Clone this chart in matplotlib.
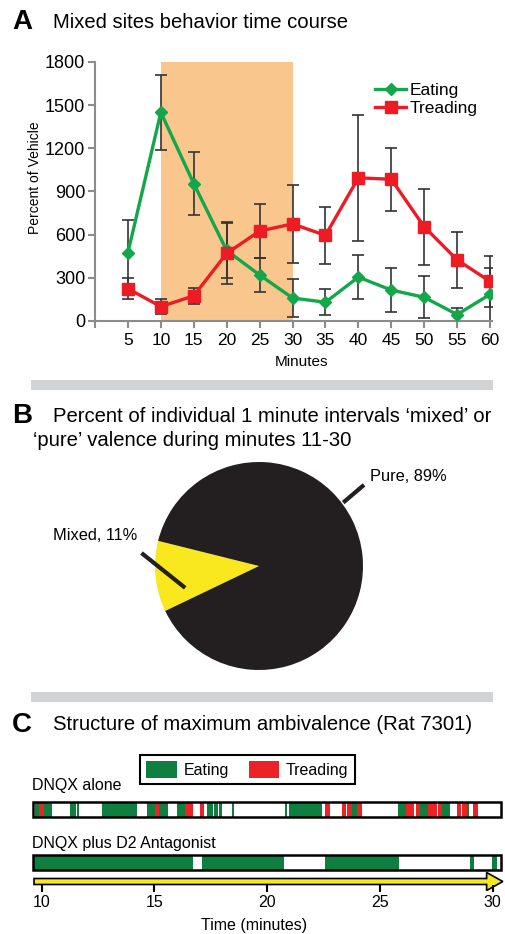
import matplotlib
matplotlib.use("Agg")
import matplotlib.pyplot as plt
from matplotlib.patches import Rectangle, FancyArrow, Patch

plt.rcParams["font.family"] = ["Liberation Sans", "DejaVu Sans"]

# ---- panel A: time course, percent of vehicle
minutes = [5, 10, 15, 20, 25, 30, 35, 40, 45, 50, 55, 60]
eating = [475, 1450, 955, 490, 320, 160, 130, 305, 215, 165, 45, 185]
eating_err = [225, 260, 220, 190, 120, 135, 90, 155, 150, 145, 45, 185]
treading = [225, 100, 175, 470, 625, 675, 595, 995, 985, 655, 425, 275]
treading_err = [75, 50, 55, 215, 190, 270, 200, 440, 220, 265, 195, 175]
y_ticks = [0, 300, 600, 900, 1200, 1500, 1800]
shade_window = (10, 30)

# ---- panel B: mixed vs pure minutes
pie_labels = ["Mixed, 11%", "Pure, 89%"]
pie_values = [11, 89]

# ---- panel C: behaviour bouts (start, end) in minutes
dnqx_eating = [(9.70, 9.88), (10.10, 10.44), (11.26, 11.51), (11.57, 11.67),
               (12.66, 14.21), (14.66, 15.02), (15.20, 15.61), (15.99, 16.36),
               (17.32, 17.60), (17.62, 17.82), (17.86, 17.99), (18.44, 18.51),
               (20.79, 20.86), (20.97, 22.42), (23.75, 23.97), (25.81, 26.14),
               (26.78, 27.14), (27.74, 28.11), (28.85, 28.95)]
dnqx_treading = [(9.88, 10.10), (15.02, 15.20), (16.36, 16.72), (17.02, 17.21),
                 (22.56, 22.78), (23.30, 23.49), (23.55, 23.75), (23.97, 24.19),
                 (26.14, 26.52), (26.59, 26.78), (27.14, 27.52), (27.59, 27.74),
                 (28.40, 28.59), (28.65, 28.85), (29.14, 29.36)]
d2_eating = [(9.63, 16.72), (17.09, 20.76), (22.56, 25.86), (29.00, 29.17),
             (29.95, 30.18)]
session = (9.63, 30.35)
time_ticks = [10, 15, 20, 25, 30]

green = "#14a64a"
red = "#ed1c24"
c_green = "#0f7f40"
c_red = "#ec2227"
axis_gray = "#8c8c8c"
pie_black = "#231f20"
pie_yellow = "#f9e81d"

W, H = 506, 934
fig = plt.figure(figsize=(W / 100, H / 100), dpi=100)


def box(x0, y0, x1, y1):
    return [x0 / W, 1 - y1 / H, (x1 - x0) / W, (y1 - y0) / H]


def fxy(x, y):
    return (x / W, 1 - y / H)


def gray_bar(y):
    fig.add_artist(Rectangle(fxy(31, y + 10), (493 - 31) / W, 10 / H,
                             transform=fig.transFigure, color="#d1d3d4", lw=0))


# ================= panel A
fig.text(*fxy(12, 22), "A", fontsize=20, fontweight="bold", va="center")
fig.text(*fxy(53, 23), "Mixed sites behavior time course", fontsize=14.6, va="center")

axA = fig.add_axes(box(95, 62, 492, 321))
axA.axvspan(*shade_window, color="#f9c68d", lw=0, zorder=0)
axA.errorbar(minutes, eating, yerr=eating_err, fmt="none", ecolor="#333333",
             elinewidth=1.2, capsize=4, capthick=1.2, zorder=2)
axA.errorbar(minutes, treading, yerr=treading_err, fmt="none", ecolor="#333333",
             elinewidth=1.2, capsize=4, capthick=1.2, zorder=2)
axA.plot(minutes, eating, color=green, lw=2.4, marker="D", ms=6, label="Eating", zorder=3)
axA.plot(minutes, treading, color=red, lw=2.4, marker="s", ms=8, label="Treading", zorder=3)
axA.set_xlim(0, 60.3)
axA.set_ylim(0, 1800)
axA.set_xticks([0] + minutes, [""] + [str(m) for m in minutes])
axA.set_yticks(y_ticks)
for s in ["top", "right"]:
    axA.spines[s].set_visible(False)
for s in ["left", "bottom"]:
    axA.spines[s].set_color(axis_gray)
    axA.spines[s].set_linewidth(1.5)
axA.tick_params(color=axis_gray, width=1.5, length=5)
axA.tick_params(axis="y", labelsize=13, pad=2)
axA.tick_params(axis="x", labelsize=12.5, pad=4)
axA.patch.set_alpha(0)
axA.legend(loc="upper left", bbox_to_anchor=((375 - 95) / 397, (321 - 83) / 259),
           frameon=False, fontsize=12.5, handlelength=1.8, handletextpad=0.2,
           labelspacing=0.15, borderaxespad=0, borderpad=0)
fig.text(*fxy(35, 178), "Percent of Vehicle", rotation=90, fontsize=10,
         ha="center", va="center")
fig.text(*fxy(302, 362), "Minutes", fontsize=11, ha="center", va="center")

gray_bar(380)

# ================= panel B
fig.text(*fxy(12, 416), "B", fontsize=20, fontweight="bold", va="center")
fig.text(*fxy(53, 416), "Percent of individual 1 minute intervals \u2018mixed\u2019 or",
         fontsize=14.6, va="center")
fig.text(*fxy(33, 440), "\u2018pure\u2019 valence during minutes 11-30",
         fontsize=14.6, va="center")

axB = fig.add_axes(box(155, 462, 363, 670))
axB.pie(pie_values, colors=[pie_yellow, pie_black], startangle=166,
        counterclock=True, wedgeprops=dict(lw=0))
axB.set_xlim(-1, 1)
axB.set_ylim(-1, 1)
axB.set_aspect("equal")
axB.plot([0.81, 1.01], [0.61, 0.78], color=pie_black, lw=3, clip_on=False,
         solid_capstyle="butt")
axB.plot([-1.13, -0.71], [0.125, -0.21], color=pie_black, lw=3, clip_on=False,
         solid_capstyle="butt")
axB.text(1.07, 0.856, pie_labels[1], fontsize=11.8, ha="left", va="center")
axB.text(-1.58, 0.29, pie_labels[0], fontsize=11.8, ha="center", va="center")

gray_bar(692)

# ================= panel C
fig.text(*fxy(12, 725), "C", fontsize=20, fontweight="bold", va="center")
fig.text(*fxy(53, 725), "Structure of maximum ambivalence (Rat 7301)",
         fontsize=14.6, va="center")

px_per_min = 22.55
x10 = 41.7
axC = fig.add_axes(box(0, 745, 506, 934))
axC.set_xlim(10 - x10 / px_per_min, 10 + (W - x10) / px_per_min)
axC.set_ylim(934, 745)
axC.axis("off")


def bouts(segs):
    return [(s, e - s) for s, e in segs]


axC.broken_barh(bouts(dnqx_eating), (802, 15), facecolors=c_green, lw=0)
axC.broken_barh(bouts(dnqx_treading), (802, 15), facecolors=c_red, lw=0)
axC.broken_barh(bouts(d2_eating), (855, 15), facecolors=c_green, lw=0)
for y0 in (802, 855):
    axC.add_patch(Rectangle((session[0], y0), session[1] - session[0], 15,
                            fill=False, ec="black", lw=1.8))
axC.text(10 - (x10 - 32) / px_per_min, 785, "DNQX alone", fontsize=11.5, va="center")
axC.text(10 - (x10 - 32) / px_per_min, 843, "DNQX plus D2 Antagonist",
         fontsize=11.5, va="center")

axC.add_patch(FancyArrow(9.66, 881.5, 30.45 - 9.66, 0, width=6, head_width=18,
                         head_length=0.72, length_includes_head=True,
                         fc="#f6e81c", ec="black", lw=1.2))
axC.vlines(time_ticks, 885, 892, color="black", lw=1.5)
for t in time_ticks:
    axC.text(t, 902, str(t), fontsize=11.5, ha="center", va="center")
axC.text(10 + (254 - x10) / px_per_min, 925, "Time (minutes)", fontsize=11.5,
         ha="center", va="center")

leg = fig.legend(handles=[Patch(facecolor=c_green, label="Eating"),
                          Patch(facecolor=c_red, label="Treading")],
                 ncol=2, loc="center", bbox_to_anchor=fxy(247.5, 769.5),
                 frameon=True, fancybox=False, edgecolor="black", framealpha=1,
                 fontsize=11.5, handlelength=1.9, handleheight=1.25,
                 handletextpad=0.45, columnspacing=1.2, borderpad=0.4)
leg.get_frame().set_linewidth(1.5)

fig.savefig("out.png", dpi=100)
